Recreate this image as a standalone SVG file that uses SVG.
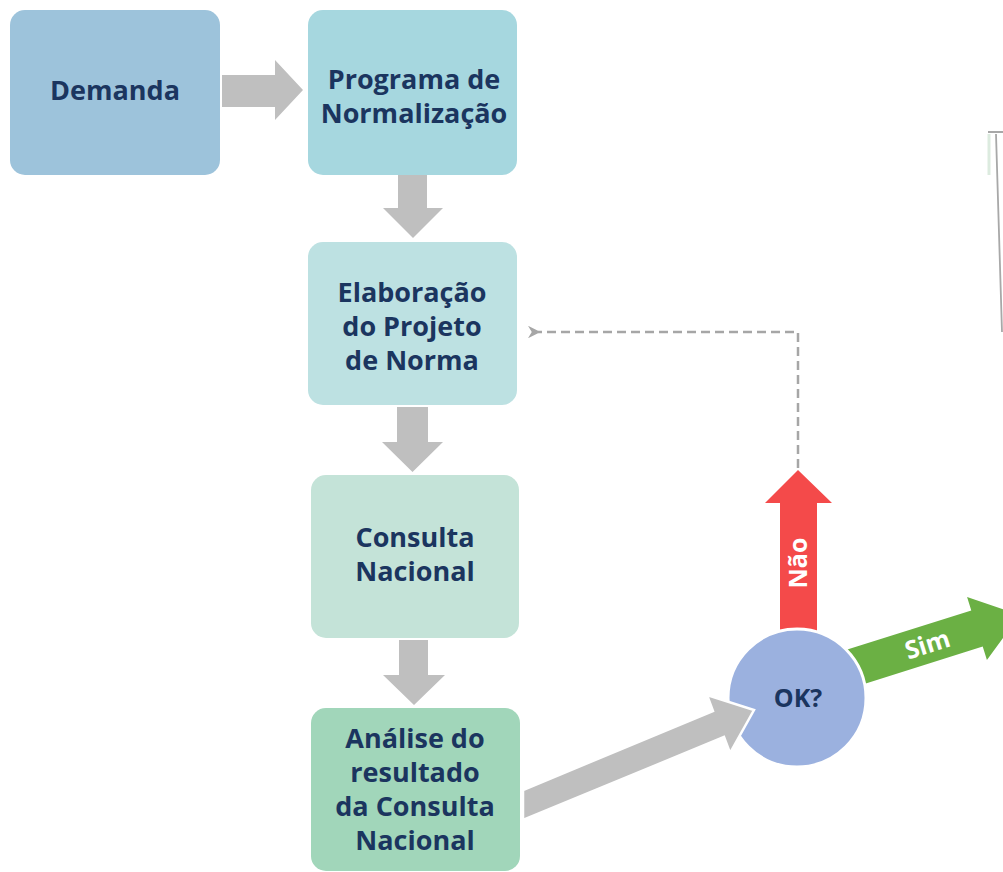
<svg xmlns="http://www.w3.org/2000/svg" width="1003" height="872" viewBox="0 0 1003 872">
  <defs>
    <style>
      .lbl { font-family: "Open Sans", "Liberation Sans", sans-serif; font-weight: 700; font-size: 27px; fill: #1B355F; text-anchor: middle; }
      .wlbl { font-family: "Open Sans", "Liberation Sans", sans-serif; font-weight: 700; font-size: 25px; fill: #FFFFFF; text-anchor: middle; }
      .grey { fill: #BFBFBF; }
      .dash { fill: none; stroke: #A6A6A6; stroke-width: 2.5; stroke-dasharray: 9 5; }
    </style>
    <marker id="ah" viewBox="0 0 10 10" refX="2" refY="5" markerWidth="5" markerHeight="5" orient="auto-start-reverse" markerUnits="strokeWidth">
      <path d="M10,0 L0,5 L10,10 L7,5 Z" fill="#A6A6A6"/>
    </marker>
  </defs>
  <rect width="1003" height="872" fill="#FFFFFF"/>

  <g id="frame-right">
    <path d="M988,132 H1003 M996,134 L1002,332" fill="none" stroke="#A8A8A8" stroke-width="1.8"/>
    <path d="M989,134 V175" fill="none" stroke="#DCEBDF" stroke-width="3"/>
  </g>

  <g id="connectors">
    <polygon class="grey" points="222,75 275,75 275,60 303,90 275,120 275,107 222,107"/>
    <polygon class="grey" points="398,175 427,175 427,208 443,208 413,238 383,208 398,208"/>
    <polygon class="grey" points="397,407 428,407 428,442 443,442 412.5,472 382,442 397,442"/>
    <polygon class="grey" points="399,640 428,640 428,675 445,675 414,705 383,675 399,675"/>
    <path class="dash" d="M798,468 V332 H538" marker-end="url(#ah)"/>
    <g id="arrow-nao">
      <polygon fill="#F44A4A" points="780,640 780,503 765,503 798,470 832,503 817,503 817,640"/>
      <text class="wlbl" transform="translate(807,563) rotate(-90)" x="0" y="0">Não</text>
    </g>
    <g id="arrow-sim" transform="translate(977,628.5) rotate(-17.5)">
      <polygon fill="#6BB044" points="-140,-19 0,-19 0,-33 45,0 0,33 0,19 -140,19"/>
      <text class="wlbl" x="-52" y="9">Sim</text>
    </g>
  </g>

  <g id="node-demanda">
    <rect x="10" y="10" width="210" height="165" rx="15" fill="#9DC3DB"/>
    <text class="lbl" x="115" y="100">Demanda</text>
  </g>
  <g id="node-programa">
    <rect x="308" y="10" width="209" height="165" rx="15" fill="#A6D7DF"/>
    <text class="lbl" x="414" y="89">Programa de</text>
    <text class="lbl" x="414" y="123">Normalização</text>
  </g>
  <g id="node-elaboracao">
    <rect x="308" y="242" width="209" height="163" rx="15" fill="#BDE1E2"/>
    <text class="lbl" x="412" y="302">Elaboração</text>
    <text class="lbl" x="412" y="336">do Projeto</text>
    <text class="lbl" x="412" y="370">de Norma</text>
  </g>
  <g id="node-consulta">
    <rect x="311" y="475" width="208" height="163" rx="15" fill="#C4E3D8"/>
    <text class="lbl" x="415" y="547">Consulta</text>
    <text class="lbl" x="415" y="581">Nacional</text>
  </g>
  <g id="node-analise">
    <rect x="311" y="708" width="209" height="163" rx="15" fill="#A1D6BA"/>
    <text class="lbl" x="415" y="748">Análise do</text>
    <text class="lbl" x="415" y="782">resultado</text>
    <text class="lbl" x="415" y="816">da Consulta</text>
    <text class="lbl" x="415" y="850">Nacional</text>
  </g>
  <g id="node-ok">
    <circle cx="797" cy="698" r="69" fill="#9BB1DF" stroke="#FFFFFF" stroke-width="3"/>
    <text class="lbl" x="798" y="707" style="font-size:25px">OK?</text>
  </g>
  <g id="arrow-analise-ok">
    <polygon class="grey" stroke="#FFFFFF" stroke-width="2.5" stroke-linejoin="miter" points="523,790 713,711 707,695 754,710 730,753 724,737 523,820"/>
  </g>
</svg>
